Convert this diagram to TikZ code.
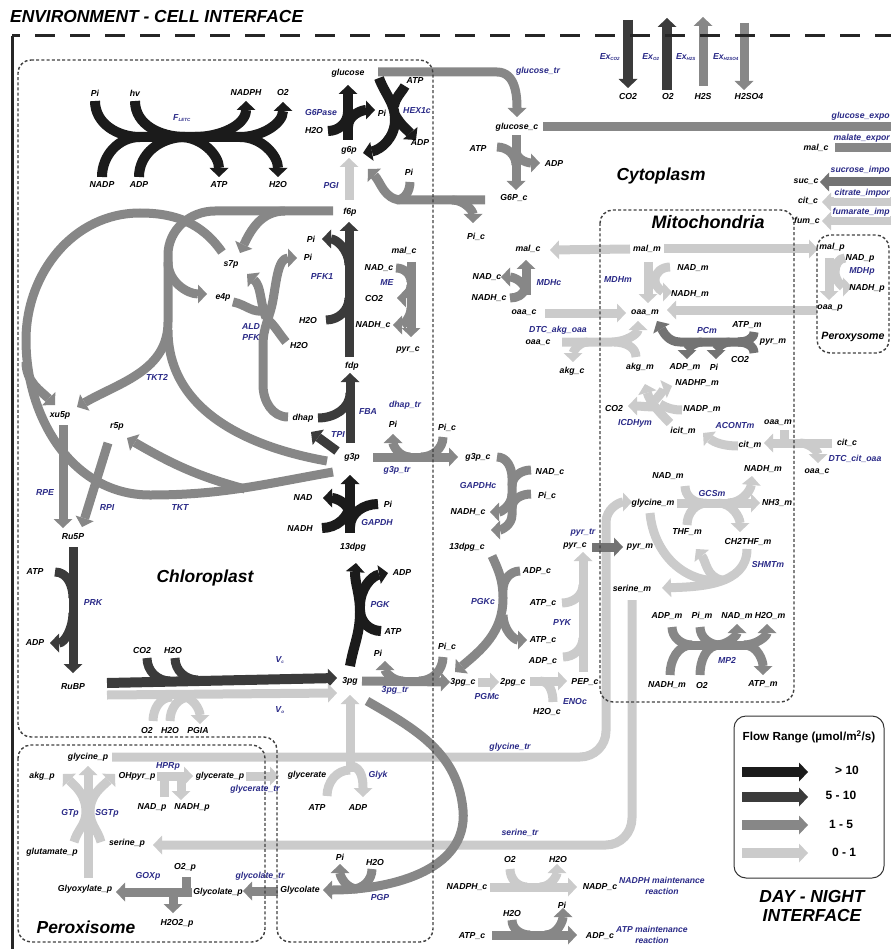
\documentclass[tikz,border=0pt]{standalone}
\usepackage{fontspec}
\setmainfont{Liberation Sans}
\usetikzlibrary{arrows.meta,positioning,calc,backgrounds}

\definecolor{enzblue}{RGB}{42,42,135}
\definecolor{fluxXL}{HTML}{1B1B1B}
\definecolor{fluxL}{HTML}{3B3B3B}
\definecolor{fluxM}{HTML}{878787}
\definecolor{fluxS}{HTML}{CBCBCB}
\newcommand{\lblfont}{\fontsize{8.7}{10.5}\selectfont\bfseries\itshape}
\newcommand{\roomfont}{\fontsize{17.4}{19}\selectfont\bfseries\itshape}
\newcommand{\fsub}[1]{\textsubscript{\fontsize{4.5}{5}\selectfont #1}}

\begin{document}
\begin{tikzpicture}[x=1pt,y=-1pt,
  >={Triangle[length=9pt,width=19pt,line width=0pt]},
  lab/.style={font=\lblfont,inner sep=0.5pt},
  enz/.style={lab,text=enzblue},
  trlab/.style={enz,fill=white,anchor=west,inner sep=0.5pt},
  band/.style={line cap=butt,line join=round,line width=9pt},
  flowXL/.style={band,draw=fluxXL,line width=10pt},
  flowL/.style={band,draw=fluxL},
  flowM/.style={band,draw=fluxM},
  flowS/.style={band,draw=fluxS},
  room/.style={draw=black!75,line width=1.4pt,dash pattern=on 3pt off 2.2pt,rounded corners=13pt},
  roomname/.style={font=\roomfont,inner sep=0pt}]
\useasboundingbox (0,0) rectangle (891,949);

% compartments
\node[roomname,anchor=west] (envtitle) at (10,17) {ENVIRONMENT - CELL INTERFACE};
\draw[line width=3pt,black!85] (12,949) -- (12,36);
\draw[line width=3pt,black!85,dash pattern=on 20pt off 15pt,dash phase=12pt] (12,36) -- (891,36);
\draw[room] (18,60) -- (433,60) -- (433,942) -- (277,942) -- (277,737) -- (18,737) -- cycle;
\draw[room] (18,745) rectangle (265,942);
\draw[room] (600,210) rectangle (794,702);
\draw[room] (817,235) rectangle (889,353);
\node[roomname] (chlname) at (205,578) {Chloroplast};
\node[roomname] (cytname) at (661,176) {Cytoplasm};
\node[roomname,font=\fontsize{18}{20}\selectfont\bfseries\itshape] (mitname) at (708,222) {Mitochondria};
\node[roomname] (perxname) at (86,927) {Peroxisome};
\node[roomname,font=\fontsize{10.6}{12}\selectfont\bfseries\itshape] (perxrname) at (853,337) {Peroxysome};

% legend
\draw[rounded corners=12pt,line width=1pt,black!80] (734,716) rectangle (884,878);
\node[font=\fontsize{11.7}{13}\selectfont\bfseries] (legtitle) at (809,737) {Flow Range (µmol/m\textsuperscript{2}/s)};
\coordinate (legA) at (742,772);
\coordinate (legB) at (742,797);
\coordinate (legC) at (742,825);
\coordinate (legD) at (742,853);
\node[font=\fontsize{12}{13}\selectfont\bfseries] (legXL) at (847,770) {> 10};
\node[font=\fontsize{12}{13}\selectfont\bfseries] (legL) at (841,795) {5 - 10};
\node[font=\fontsize{12}{13}\selectfont\bfseries] (legM) at (841,824) {1 - 5};
\node[font=\fontsize{12}{13}\selectfont\bfseries] (legS) at (844,852) {0 - 1};
\node[roomname,align=center] (daynight) at (812,906) {DAY - NIGHT\\INTERFACE};

% light reactions
\node[lab] (lPi) at (95,93) {Pi};
\node[lab] (lhv) at (135,93) {hv};
\node[lab] (lNADPH) at (246,93) {NADPH};
\node[lab] (lO2) at (283,93) {O2};
\node[lab] (lNADP) at (102,185) {NADP};
\node[lab] (lADP) at (139,185) {ADP};
\node[lab] (lATP) at (219,185) {ATP};
\node[lab] (lH2O) at (278,185) {H2O};
\node[enz] (eLETC) at (182,118) {F\fsub{LETC}};

% glucose / g6p
\node[lab] (glucose) at (348,73) {glucose};
\node[lab] (hATP) at (415,81) {ATP};
\node[enz] (eG6Pase) at (321,113) {G6Pase};
\node[lab] (gPi) at (382,113) {Pi};
\node[enz] (eHEX) at (417,111) {HEX1c};
\node[lab] (gH2O) at (314,131) {H2O};
\node[lab] (hADP) at (420,143) {ADP};
\node[lab] (g6p) at (349,150) {g6p};
\node[enz] (ePGI) at (331,186) {PGI};
\node[lab] (f6p) at (350,212) {f6p};
\node[lab] (tPi) at (409,172) {Pi};
\node[enz] (eglctr) at (538,71) {glucose\_tr};
\node[lab] (glcc) at (517,127) {glucose\_c};
\node[lab] (cATP) at (478,149) {ATP};
\node[lab] (cADP) at (554,164) {ADP};
\node[lab] (G6Pc) at (514,198) {G6P\_c};
\node[lab] (Pic) at (476,237) {Pi\_c};

% exchange
\node[enz] (eExCO2) at (610,57) {Ex\fsub{CO2}};
\node[enz] (eExO2) at (651,57) {Ex\fsub{O2}};
\node[enz] (eExH2S) at (686,57) {Ex\fsub{H2S}};
\node[enz] (eExH2SO4) at (726,57) {Ex\fsub{H2SO4}};
\node[lab] (exCO2) at (628,97) {CO2};
\node[lab] (exO2) at (668,97) {O2};
\node[lab] (exH2S) at (703,97) {H2S};
\node[lab] (exH2SO4) at (749,97) {H2SO4};
\node[trlab] (eglcexp) at (831,116) {glucose\_expo};
\node[lab] (malc3) at (816,148) {mal\_c};
\node[trlab] (emalexp) at (833,138) {malate\_expor};
\node[lab] (succ) at (806,182) {suc\_c};
\node[trlab] (esucimp) at (830,170) {sucrose\_impo};
\node[lab] (citc1) at (808,201) {cit\_c};
\node[trlab] (ecitimp) at (834,193) {citrate\_impor};
\node[lab] (fumc) at (807,221) {fum\_c};
\node[trlab] (efumimp) at (832,212) {fumarate\_imp};

% ME, PFK1, Calvin cycle
\node[lab] (malc1) at (404,251) {mal\_c};
\node[lab] (meNAD) at (379,268) {NAD\_c};
\node[enz] (eME) at (387,283) {ME};
\node[lab] (meCO2) at (374,299) {CO2};
\node[lab] (meNADH) at (373,325) {NADH\_c};
\node[lab] (pyrc1) at (408,350) {pyr\_c};
\node[lab] (pfPi1) at (311,239) {Pi};
\node[lab] (pfPi2) at (308,257) {Pi};
\node[enz] (ePFK1) at (322,277) {PFK1};
\node[lab] (pfH2O) at (308,321) {H2O};
\node[lab] (fdp) at (352,366) {fdp};
\node[lab] (s7p) at (231,264) {s7p};
\node[lab] (e4p) at (223,297) {e4p};
\node[enz] (eALD) at (251,327) {ALD};
\node[enz] (ePFK) at (251,338) {PFK};
\node[lab] (alH2O) at (299,346) {H2O};
\node[enz] (eTKT2) at (157,377) {TKT2};
\node[lab] (xu5p) at (60,415) {xu5p};
\node[lab] (r5p) at (117,426) {r5p};
\node[enz] (eRPE) at (45,493) {RPE};
\node[enz] (eRPI) at (107,508) {RPI};
\node[enz] (eTKT) at (180,508) {TKT};
\node[lab] (Ru5P) at (73,537) {Ru5P};
\node[lab] (prATP) at (35,572) {ATP};
\node[enz] (ePRK) at (93,603) {PRK};
\node[lab] (prADP) at (35,643) {ADP};
\node[lab] (RuBP) at (73,687) {RuBP};
\node[lab] (dhap) at (303,418) {dhap};
\node[enz] (eFBA) at (368,412) {FBA};
\node[enz] (edhaptr) at (405,405) {dhap\_tr};
\node[lab] (gtPi) at (393,424) {Pi};
\node[lab] (gtPic) at (447,428) {Pi\_c};
\node[enz] (eTPI) at (338,435) {TPI};
\node[lab] (g3p) at (352,457) {g3p};
\node[enz] (eg3ptr) at (397,470) {g3p\_tr};
\node[lab] (g3pc) at (478,457) {g3p\_c};

% GAPDH, PGK
\node[lab] (gaNAD) at (303,498) {NAD};
\node[lab] (gaPi) at (388,504) {Pi};
\node[lab] (gaNADH) at (300,529) {NADH};
\node[enz] (eGAPDH) at (377,522) {GAPDH};
\node[lab] (dpg) at (353,547) {13dpg};
\node[lab] (gcNAD) at (550,472) {NAD\_c};
\node[enz] (eGAPDHc) at (478,486) {GAPDHc};
\node[lab] (gcPi) at (547,496) {Pi\_c};
\node[lab] (gcNADH) at (468,512) {NADH\_c};
\node[lab] (dpgc) at (467,547) {13dpg\_c};
\node[lab] (pkADP) at (402,573) {ADP};
\node[enz] (ePGK) at (380,604) {PGK};
\node[lab] (pkATP) at (393,632) {ATP};
\node[lab] (tpg) at (350,681) {3pg};
\node[lab] (kcADP) at (537,571) {ADP\_c};
\node[enz] (ePGKc) at (483,601) {PGKc};
\node[lab] (kcATP) at (543,640) {ATP\_c};
\node[enz] (epyrtr) at (583,533) {pyr\_tr};
\node[lab] (pyrc2) at (575,546) {pyr\_c};
\node[lab] (pyATP) at (543,603) {ATP\_c};
\node[enz] (ePYK) at (562,623) {PYK};
\node[lab] (pyADP) at (543,661) {ADP\_c};
\node[lab] (PEPc) at (585,682) {PEP\_c};
\node[lab] (tpPi) at (378,653) {Pi};
\node[lab] (tpPic) at (447,647) {Pi\_c};
\node[enz] (e3pgtr) at (395,690) {3pg\_tr};
\node[lab] (tpgc) at (463,682) {3pg\_c};
\node[enz] (ePGMc) at (487,696) {PGMc};
\node[lab] (twopgc) at (513,682) {2pg\_c};
\node[enz] (eENOc) at (575,701) {ENOc};
\node[lab] (enH2O) at (547,712) {H2O\_c};

% Rubisco
\node[lab] (vcCO2) at (142,650) {CO2};
\node[lab] (vcH2O) at (173,650) {H2O};
\node[enz] (eVc) at (280,660) {V\fsub{c}};
\node[enz] (eVo) at (280,710) {V\fsub{o}};
\node[lab] (voO2) at (147,730) {O2};
\node[lab] (voH2O) at (170,730) {H2O};
\node[lab] (PGIA) at (198,730) {PGIA};

% photorespiration
\node[lab] (glyp) at (88,757) {glycine\_p};
\node[lab] (akgp) at (42,776) {akg\_p};
\node[lab] (OHpyrp) at (137,776) {OHpyr\_p};
\node[enz] (eHPRp) at (168,766) {HPRp};
\node[lab] (glycerp) at (220,776) {glycerate\_p};
\node[lab] (glycer) at (307,775) {glycerate};
\node[enz] (eglycertr) at (255,789) {glycerate\_tr};
\node[enz] (eGTp) at (70,813) {GTp};
\node[enz] (eSGTp) at (107,813) {SGTp};
\node[lab] (hpNAD) at (152,807) {NAD\_p};
\node[lab] (hpNADH) at (192,807) {NADH\_p};
\node[lab] (glutp) at (52,852) {glutamate\_p};
\node[lab] (serp) at (127,843) {serine\_p};
\node[lab] (goO2) at (185,867) {O2\_p};
\node[enz] (eGOXp) at (148,876) {GOXp};
\node[enz] (eglyctr) at (260,876) {glycolate\_tr};
\node[lab] (glyoxp) at (85,889) {Glyoxylate\_p};
\node[lab] (glycolp) at (218,892) {Glycolate\_p};
\node[lab] (glycol) at (300,890) {Glycolate};
\node[lab] (H2O2p) at (177,923) {H2O2\_p};
\node[enz] (eGlyk) at (378,775) {Glyk};
\node[lab] (gkATP) at (317,807) {ATP};
\node[lab] (gkADP) at (358,807) {ADP};
\node[lab] (ppPi) at (340,857) {Pi};
\node[lab] (ppH2O) at (375,862) {H2O};
\node[enz] (ePGP) at (380,897) {PGP};
\node[enz] (eglytr) at (510,747) {glycine\_tr};
\node[enz] (esertr) at (520,833) {serine\_tr};

% maintenance
\node[lab] (nmO2) at (510,859) {O2};
\node[lab] (nmH2O) at (558,859) {H2O};
\node[lab] (NADPHc) at (467,887) {NADPH\_c};
\node[lab] (NADPc) at (600,887) {NADP\_c};
\node[enz,align=center,font=\fontsize{8.6}{10.5}\selectfont\bfseries\itshape] (eNADPHm) at (662,886) {NADPH maintenance\\reaction};
\node[lab] (amH2O) at (512,913) {H2O};
\node[lab] (amPi) at (562,905) {Pi};
\node[lab] (ATPc) at (472,936) {ATP\_c};
\node[lab] (ADPc) at (600,936) {ADP\_c};
\node[enz,align=center,font=\fontsize{8.6}{10.5}\selectfont\bfseries\itshape] (eATPm) at (652,935) {ATP maintenance\\reaction};

% cytosol malate / oaa
\node[lab] (malc2) at (528,249) {mal\_c};
\node[lab] (mdNAD) at (487,277) {NAD\_c};
\node[lab] (mdNADH) at (489,298) {NADH\_c};
\node[enz] (eMDHc) at (549,283) {MDHc};
\node[lab] (oaac1) at (524,313) {oaa\_c};
\node[enz] (eDTCakg) at (558,330) {DTC\_akg\_oaa};
\node[lab] (oaac2) at (538,343) {oaa\_c};
\node[lab] (akgc) at (572,371) {akg\_c};

% mitochondria
\node[lab] (malm) at (647,249) {mal\_m};
\node[lab] (mmNAD) at (693,268) {NAD\_m};
\node[enz] (eMDHm) at (618,280) {MDHm};
\node[lab] (mmNADH) at (690,294) {NADH\_m};
\node[lab] (oaam1) at (645,313) {oaa\_m};
\node[enz] (ePCm) at (707,331) {PCm};
\node[lab] (pcATP) at (747,325) {ATP\_m};
\node[lab] (pyrm1) at (773,342) {pyr\_m};
\node[lab] (akgm) at (640,367) {akg\_m};
\node[lab] (pcADP) at (685,367) {ADP\_m};
\node[lab] (pcPi) at (714,367) {Pi};
\node[lab] (pcCO2) at (740,360) {CO2};
\node[lab] (icNADHP) at (697,383) {NADHP\_m};
\node[lab] (icCO2) at (614,409) {CO2};
\node[lab] (icNADP) at (702,409) {NADP\_m};
\node[enz] (eICDH) at (635,423) {ICDHym};
\node[lab] (icitm) at (683,431) {icit\_m};
\node[enz] (eACONT) at (735,426) {ACONTm};
\node[lab] (oaam2) at (778,423) {oaa\_m};
\node[lab] (citm) at (750,445) {cit\_m};
\node[lab] (citc2) at (847,443) {cit\_c};
\node[enz] (eDTCcit) at (855,459) {DTC\_cit\_oaa};
\node[lab] (oaac3) at (817,472) {oaa\_c};
\node[lab] (gsNADH) at (763,469) {NADH\_m};
\node[lab] (gsNAD) at (668,476) {NAD\_m};
\node[enz] (eGCSm) at (712,494) {GCSm};
\node[lab] (glym) at (653,503) {glycine\_m};
\node[lab] (NH3m) at (777,503) {NH3\_m};
\node[lab] (THFm) at (687,532) {THF\_m};
\node[lab] (CH2THFm) at (748,542) {CH2THF\_m};
\node[lab] (pyrm2) at (640,547) {pyr\_m};
\node[enz] (eSHMTm) at (768,565) {SHMTm};
\node[lab] (serm) at (632,589) {serine\_m};
\node[lab] (mpADP) at (667,616) {ADP\_m};
\node[lab] (mpPi) at (702,616) {Pi\_m};
\node[lab] (mpNAD) at (737,616) {NAD\_m};
\node[lab] (mpH2O) at (770,616) {H2O\_m};
\node[enz] (eMP2) at (727,660) {MP2};
\node[lab] (mpNADH) at (667,685) {NADH\_m};
\node[lab] (mpO2) at (702,685) {O2};
\node[lab] (mpATP) at (763,684) {ATP\_m};

% peroxysome (right)
\node[lab] (malp) at (832,247) {mal\_p};
\node[lab] (ppNAD) at (860,258) {NAD\_p};
\node[enz] (eMDHp) at (862,271) {MDHp};
\node[lab] (ppNADH) at (867,288) {NADH\_p};
\node[lab] (oaap) at (830,308) {oaa\_p};

\begin{pgfonlayer}{background}
% legend arrows
\draw[flowXL,->] (legA) -- ++(66,0);
\draw[flowL,line width=10pt,->] (legB) -- ++(66,0);
\draw[flowM,line width=10pt,->] (legC) -- ++(66,0);
\draw[flowS,line width=10pt,->] (legD) -- ++(66,0);

% light reactions
\draw[flowXL] (95,101) to[out=-90,in=180] (140,137) -- (240,137);
\draw[flowXL] (135,101) to[out=-90,in=180] (185,137);
\draw[flowXL] (102,177) to[out=90,in=180] (140,137);
\draw[flowXL] (139,177) to[out=90,in=180] (185,137);
\draw[flowXL,->] (195,137) to[out=0,in=-90] (246,101);
\draw[flowXL,->] (240,137) to[out=0,in=-90] (283,102);
\draw[flowXL,->] (180,137) to[out=0,in=90] (219,177);
\draw[flowXL,->] (240,137) to[out=0,in=90] (278,177);

% G6Pase, HEX1c, PGI
\draw[flowXL,->] (348,140) -- (348,85);
\draw[flowXL] (328,131) to[out=0,in=-90] (348,112);
\draw[flowXL,->] (348,127) to[out=90,in=180] (375,110);
\draw[flowXL,->] (379,78) to[out=-70,in=90] (395,120) to[out=-90,in=10] (363,153);
\draw[flowXL] (405,86) to[out=-120,in=80] (394,106);
\draw[flowXL,->] (395,115) to[out=-60,in=130] (416,140);
\draw[flowS,->] (349,200) -- (349,158);

% glucose transport and cytosolic hexokinase
\draw[flowM,->] (378,72) -- (497,72) to[out=0,in=90] (517,117);
\draw[flowM] (543,127) -- (891,127);
\draw[flowM,->] (516,135) -- (516,190);
\draw[flowM] (497,147) to[out=0,in=90] (516,165);
\draw[flowM,->] (516,150) to[out=-90,in=180] (540,163);
\draw[flowM,->] (485,200) -- (402,200) to[out=180,in=-45] (368,169);
\draw[flowM] (410,182) to[out=-90,in=0] (396,200);
\draw[flowM,->] (452,200) to[out=0,in=90] (473,223);

% exchange
\draw[flowL,line width=10pt,->] (628,20) -- (628,88);
\draw[flowL,line width=10pt,->] (667,90) -- (667,18);
\draw[flowM,->] (703,86) -- (703,17);
\draw[flowM,->] (744,23) -- (744,90);
\draw[flowM] (835,148) -- (891,148);
\draw[flowM,draw=black!55,->] (891,182) -- (820,182);
\draw[flowS,->] (891,202) -- (822,202);
\draw[flowS,->] (891,221) -- (822,221);

% Calvin cycle regeneration
\draw[flowM] (222,252) to[out=125,in=0] (140,213) to[out=180,in=90] (26,340)
  to[out=-90,in=180] (150,495) to[out=0,in=190] (333,472);
\draw[flowM,->] (26,362) to[out=-90,in=135] (55,405);
\draw[flowM,->] (245,489) to[out=165,in=-30] (127,438);
\draw[flowM,->] (333,211) -- (215,211) to[out=180,in=90] (168,255) -- (168,322) to[out=-90,in=30] (77,407);
\draw[flowM,->] (168,262) to[out=-90,in=180] (207,294);
\draw[flowM] (327,461) to[out=170,in=-90] (168,330);
\draw[flowM,->] (285,211) to[out=180,in=65] (240,253);
\draw[flowM,->] (288,417) to[out=180,in=-90] (263,385) -- (263,345) to[out=90,in=-100] (273,300) to[out=80,in=180] (297,258);
\draw[flowM,->] (266,318) to[out=110,in=-40] (247,274);
\draw[flowM] (233,302) to[out=-10,in=200] (266,310);
\draw[flowM] (266,318) to[out=-40,in=130] (286,342);
\draw[flowM,->] (63,425) -- (63,528);
\draw[flowM,->] (108,443) -- (82,527);
\draw[flowL,->] (73,547) -- (73,673);
\draw[flowL] (55,572) to[out=0,in=90] (73,598);
\draw[flowL,->] (73,613) to[out=-90,in=0] (50,643);

% PFK1, FBA, TPI
\draw[flowL,->] (349,357) -- (349,222);
\draw[flowL] (326,320) to[out=0,in=-90] (349,298);
\draw[flowL,->] (349,265) to[out=90,in=0] (322,239);
\draw[flowL,->] (350,443) -- (350,373);
\draw[flowL] (318,418) to[out=0,in=-90] (350,393);
\draw[flowL,->] (337,451) -- (311,432);

% GAPDH, PGK
\draw[flowXL,->] (350,533) -- (350,475);
\draw[flowXL] (322,528) to[out=0,in=-90] (350,502);
\draw[flowXL,->] (350,516) to[out=90,in=0] (323,498);
\draw[flowXL] (378,504) to[out=180,in=90] (350,527);
\draw[flowXL,->] (350,666) to[out=80,in=-90] (360,612) to[out=90,in=-95] (356,563);
\draw[flowXL,->] (360,606) to[out=90,in=190] (388,573);
\draw[flowXL] (381,631) to[out=180,in=-90] (360,610);

% Rubisco
\draw[flowL,line width=10pt,->] (107,683) -- (337,678);
\draw[flowL] (147,658) to[out=-90,in=180] (170,681);
\draw[flowL] (175,658) to[out=-90,in=180] (198,680);
\draw[flowS,->] (107,695) -- (337,693);
\draw[flowS] (153,721) to[out=90,in=180] (172,697);
\draw[flowS] (170,721) to[out=90,in=180] (190,697);
\draw[flowS,->] (180,696) to[out=0,in=90] (200,724);

% ME and MDHc
\draw[flowM,->] (411,262) -- (411,337);
\draw[flowM] (396,268) to[out=0,in=90] (411,282);
\draw[flowM,->] (411,285) to[out=-90,in=0] (397,298);
\draw[flowM,->] (411,308) to[out=-90,in=0] (393,325);
\draw[flowM,->] (526,295) -- (526,260);
\draw[flowM,->] (526,290) to[out=110,in=0] (501,277);
\draw[flowM] (510,298) to[out=0,in=-100] (525,288);

% mitochondrial and peroxysomal shuttles
\draw[flowS,->] (630,249) -- (550,250);
\draw[flowS,->] (664,249) -- (818,249);
\draw[flowS,->] (545,313) -- (626,313);
\draw[flowS,->] (817,310) -- (667,310);
\draw[flowS,->] (648,262) -- (648,303);
\draw[flowS,->] (670,267) to[out=180,in=90] (655,280) to[out=-90,in=180] (672,292);
\draw[flowS,->] (829,258) -- (829,300);
\draw[flowS,->] (845,258) to[out=180,in=90] (835,272) to[out=-90,in=180] (852,287);
\draw[flowS,->] (562,342) -- (612,342) to[out=0,in=-90] (638,321);
\draw[flowS] (636,357) to[out=90,in=0] (614,342);
\draw[flowS,->] (588,342) to[out=180,in=90] (573,362);

% PCm, ICDHym, ACONTm, DTC_cit_oaa
\draw[flowM,draw=black!55,->] (753,342) -- (680,342) to[out=180,in=-60] (657,321);
\draw[flowM,draw=black!55] (754,332) to[out=-90,in=0] (738,342);
\draw[flowM,draw=black!55] (754,353) to[out=90,in=0] (738,342);
\draw[flowM,draw=black!55,->] (702,342) to[out=180,in=90] (687,359);
\draw[flowM,draw=black!55,->] (730,342) to[out=180,in=90] (716,359);
\draw[flowS,->] (670,423) to[out=135,in=-75] (645,384);
\draw[flowS,->] (658,407) to[out=180,in=0] (628,406);
\draw[flowS,->] (655,400) to[out=45,in=200] (672,386);
\draw[flowS] (682,410) to[out=180,in=-30] (660,404);
\draw[flowS,->] (738,446) to[out=180,in=-40] (703,433);
\draw[flowS,->] (832,443) -- (764,443);
\draw[flowS] (784,430) -- (784,443);
\draw[flowS,->] (800,443) to[out=0,in=90] (818,463);

% GCSm, SHMTm
\draw[flowS,->] (677,503) -- (760,503);
\draw[flowS] (685,486) to[out=-90,in=180] (703,503);
\draw[flowS,->] (728,503) to[out=0,in=-95] (752,476);
\draw[flowS] (687,525) to[out=90,in=180] (707,503);
\draw[flowS,->] (718,503) to[out=0,in=90] (740,532);
\draw[flowS,->] (747,549) to[out=-90,in=2] (662,588);
\draw[flowS] (650,513) to[out=-85,in=180] (718,581);
\draw[flowS,->] (722,580) to[out=170,in=-50] (696,549);

% MP2
\draw[flowM] (688,645) -- (748,645);
\draw[flowM] (672,627) to[out=-90,in=180] (692,645);
\draw[flowM] (700,627) to[out=-90,in=180] (720,645);
\draw[flowM] (670,675) to[out=90,in=180] (692,645);
\draw[flowM] (700,675) to[out=90,in=180] (720,645);
\draw[flowM,->] (716,645) to[out=0,in=-90] (737,624);
\draw[flowM,->] (744,645) to[out=0,in=-90] (767,624);
\draw[flowM,->] (744,645) to[out=0,in=90] (763,675);

% glycine and serine transport
\draw[flowS,->] (112,757) -- (580,757) to[out=0,in=-90] (606,731) -- (606,522) to[out=90,in=180] (632,502);
\draw[flowS,->] (632,600) -- (632,818) to[out=-90,in=0] (606,845) -- (153,845);

% lower glycolysis
\draw[flowM,draw=black!55,->] (592,547) -- (623,547);
\draw[flowS,->] (583,672) -- (583,552);
\draw[flowS] (563,657) to[out=0,in=-90] (583,638);
\draw[flowS] (562,603) to[out=0,in=-90] (583,585);
\draw[flowM,->] (492,556) to[out=-65,in=90] (503,598) to[out=-90,in=40] (455,672);
\draw[flowM] (520,571) to[out=180,in=90] (503,590);
\draw[flowM,->] (503,615) to[out=-90,in=180] (527,640);
\draw[flowM,->] (362,681) -- (450,682);
\draw[flowM,->] (403,681) to[out=180,in=-90] (385,661);
\draw[flowM] (443,657) to[out=-90,in=0] (419,681);
\draw[flowM,->] (373,457) -- (458,457);
\draw[flowM,->] (410,457) to[out=180,in=-90] (393,434);
\draw[flowM] (443,437) to[out=-90,in=0] (421,457);
\draw[flowM,->] (497,457) to[out=0,in=90] (512,478) -- (512,515) to[out=-90,in=0] (491,530);
\draw[flowM] (531,470) to[out=180,in=90] (512,486);
\draw[flowM] (531,494) to[out=180,in=90] (512,508);
\draw[flowM,->] (512,494) to[out=-90,in=0] (490,512);
\draw[flowS,->] (478,682) -- (499,682);
\draw[flowS,->] (530,681) -- (567,681);
\draw[flowS] (540,681) to[out=0,in=90] (553,702);

% Glyk, PGP, photorespiration
\draw[flowS,->] (350,772) -- (350,695);
\draw[flowS] (327,796) to[out=90,in=180] (350,770);
\draw[flowS,->] (350,766) to[out=0,in=90] (363,797);
\draw[flowM,->] (367,701) to[out=-30,in=95] (463,810) to[out=-85,in=0] (323,890);
\draw[flowM,->] (358,889) to[out=180,in=-90] (340,864);
\draw[flowM] (372,869) to[out=-90,in=0] (352,889);
\draw[flowM,->] (278,891) -- (243,891);
\draw[flowM,->] (192,892) -- (116,892);
\draw[flowM] (186,877) -- (186,892);
\draw[flowM,->] (173,892) -- (173,913);
\draw[flowS,->] (88,878) -- (88,766);
\draw[flowS,->] (74,842) to[out=75,in=-90] (86,812) to[out=90,in=-45] (63,774);
\draw[flowS,->] (101,842) to[out=105,in=-90] (90,812) to[out=90,in=-135] (115,774);
\draw[flowS,->] (157,776) -- (193,776);
\draw[flowS] (164,797) -- (164,776);
\draw[flowS,->] (181,776) -- (181,800);
\draw[flowS,->] (246,776) -- (279,776);

% maintenance
\draw[flowS,->] (490,887) -- (577,887);
\draw[flowS] (510,869) to[out=-90,in=180] (527,887);
\draw[flowS,->] (540,887) to[out=0,in=-90] (557,864);
\draw[flowM,->] (492,935) -- (577,935);
\draw[flowM] (512,920) to[out=-90,in=180] (530,935);
\draw[flowM,->] (545,935) to[out=0,in=-90] (563,908);
\end{pgfonlayer}
\end{tikzpicture}
\end{document}
